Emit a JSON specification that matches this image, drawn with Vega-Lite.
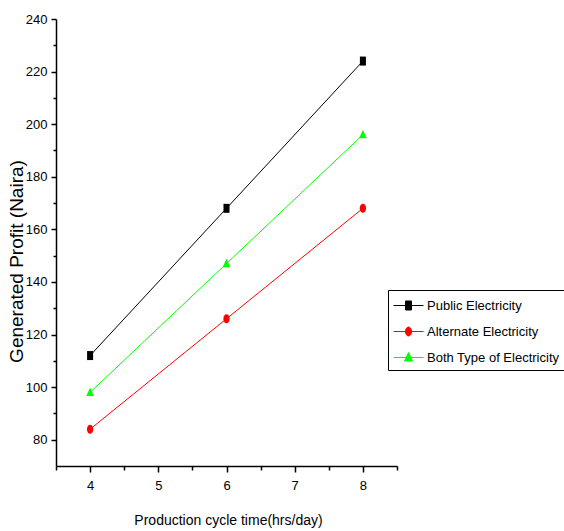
{
  "$schema": "https://vega.github.io/schema/vega-lite/v6.json",
  "width": 341,
  "height": 447,
  "autosize": {"type": "none"},
  "padding": {"left": 56, "top": 19, "right": 167, "bottom": 65},
  "background": "white",
  "config": {"view": {"stroke": null}},
  "data": {
    "values": [
      {"series": "Public Electricity", "time": 4, "profit": 112},
      {"series": "Public Electricity", "time": 6, "profit": 168},
      {"series": "Public Electricity", "time": 8, "profit": 224},
      {"series": "Alternate Electricity", "time": 4, "profit": 84},
      {"series": "Alternate Electricity", "time": 6, "profit": 126},
      {"series": "Alternate Electricity", "time": 8, "profit": 168},
      {"series": "Both Type of Electricity", "time": 4, "profit": 98},
      {"series": "Both Type of Electricity", "time": 6, "profit": 147},
      {"series": "Both Type of Electricity", "time": 8, "profit": 196}
    ]
  },
  "encoding": {
    "x": {
      "field": "time", "type": "quantitative",
      "scale": {"domain": [3.5, 8.5], "nice": false, "zero": false},
      "axis": {
        "title": "Production cycle time(hrs/day)",
        "values": [3.5, 4, 4.5, 5, 5.5, 6, 6.5, 7, 7.5, 8, 8.5],
        "labelExpr": "datum.value % 1 === 0 ? format(datum.value, 'd') : ''",
        "tickSize": {"condition": {"test": "datum.value % 1 === 0", "value": 6}, "value": 4},
        "grid": false,
        "domainColor": "black", "domainWidth": 1.5,
        "tickColor": "black", "tickWidth": 1.5,
        "labelFont": "Liberation Sans", "labelFontSize": 13, "labelColor": "black",
        "labelPadding": 7,
        "titleFont": "Liberation Sans", "titleFontSize": 14, "titleFontWeight": "normal", "titleColor": "black",
        "titleBaseline": "middle", "titleX": 172, "titleY": 54
      }
    },
    "y": {
      "field": "profit", "type": "quantitative",
      "scale": {"domain": [70, 240], "nice": false, "zero": false},
      "axis": {
        "title": "Generated Profit (Naira)",
        "values": [80, 90, 100, 110, 120, 130, 140, 150, 160, 170, 180, 190, 200, 210, 220, 230, 240],
        "labelExpr": "datum.value % 20 === 0 ? datum.label : ''",
        "tickSize": {"condition": {"test": "datum.value % 20 === 0", "value": 5}, "value": 3},
        "grid": false,
        "domainColor": "black", "domainWidth": 1.5,
        "tickColor": "black", "tickWidth": 1.5,
        "labelFont": "Liberation Sans", "labelFontSize": 13, "labelColor": "black",
        "labelPadding": 4,
        "titleFont": "Liberation Sans", "titleFontSize": 19, "titleFontWeight": "normal", "titleColor": "black",
        "titleAngle": -90, "titleBaseline": "middle", "titleAlign": "center",
        "titleX": -40, "titleY": 242
      }
    },
    "color": {
      "field": "series", "type": "nominal",
      "scale": {
        "domain": ["Public Electricity", "Alternate Electricity", "Both Type of Electricity"],
        "range": ["#000000", "#FF0000", "#00FF00"]
      },
      "legend": {
        "title": null,
        "orient": "none",
        "legendX": 332,
        "legendY": 271,
        "padding": 5,
        "strokeColor": "black",
        "fillColor": "white",
        "symbolSize": 400,
        "symbolOffset": 5,
        "labelOffset": 8,
        "rowPadding": 8,
        "labelFont": "Liberation Sans",
        "labelFontSize": 13,
        "labelColor": "black",
        "labelLimit": 300,
        "encode": {
          "symbols": {
            "update": {
              "shape": {"signal": "datum.value === 'Public Electricity' ? 'M-1.5,0H1.5M-0.3,-0.45H0.3V0.45H-0.3Z' : datum.value === 'Alternate Electricity' ? 'M-1.5,0H1.5M-0.3,0A0.3,0.45 0 1,0 0.3,0A0.3,0.45 0 1,0 -0.3,0Z' : 'M-1.5,0H1.5M0,-0.5L0.4,0.35H-0.4Z'"},
              "stroke": {"signal": "datum.value === 'Public Electricity' ? '#000000' : datum.value === 'Alternate Electricity' ? '#FF0000' : '#00FF00'"},
              "fill": {"signal": "datum.value === 'Public Electricity' ? '#000000' : datum.value === 'Alternate Electricity' ? '#FF0000' : '#00FF00'"},
              "strokeWidth": {"value": 1},
              "size": {"value": 400},
              "opacity": {"value": 1}
            }
          }
        }
      }
    }
  },
  "layer": [
    {
      "mark": {"type": "line", "strokeWidth": 1},
      "encoding": {"detail": {"field": "series"}}
    },
    {
      "mark": {"type": "point", "filled": true, "opacity": 1, "size": 81},
      "encoding": {
        "shape": {
          "condition": [
            {"test": "datum.series === 'Public Electricity'", "value": "M-0.67,-1H0.67V1H-0.67Z"},
            {"test": "datum.series === 'Alternate Electricity'", "value": "M-0.7,0A0.7,1 0 1,0 0.7,0A0.7,1 0 1,0 -0.7,0Z"}
          ],
          "value": "M0,-1.1L0.85,0.8H-0.85Z"
        }
      }
    }
  ]
}
